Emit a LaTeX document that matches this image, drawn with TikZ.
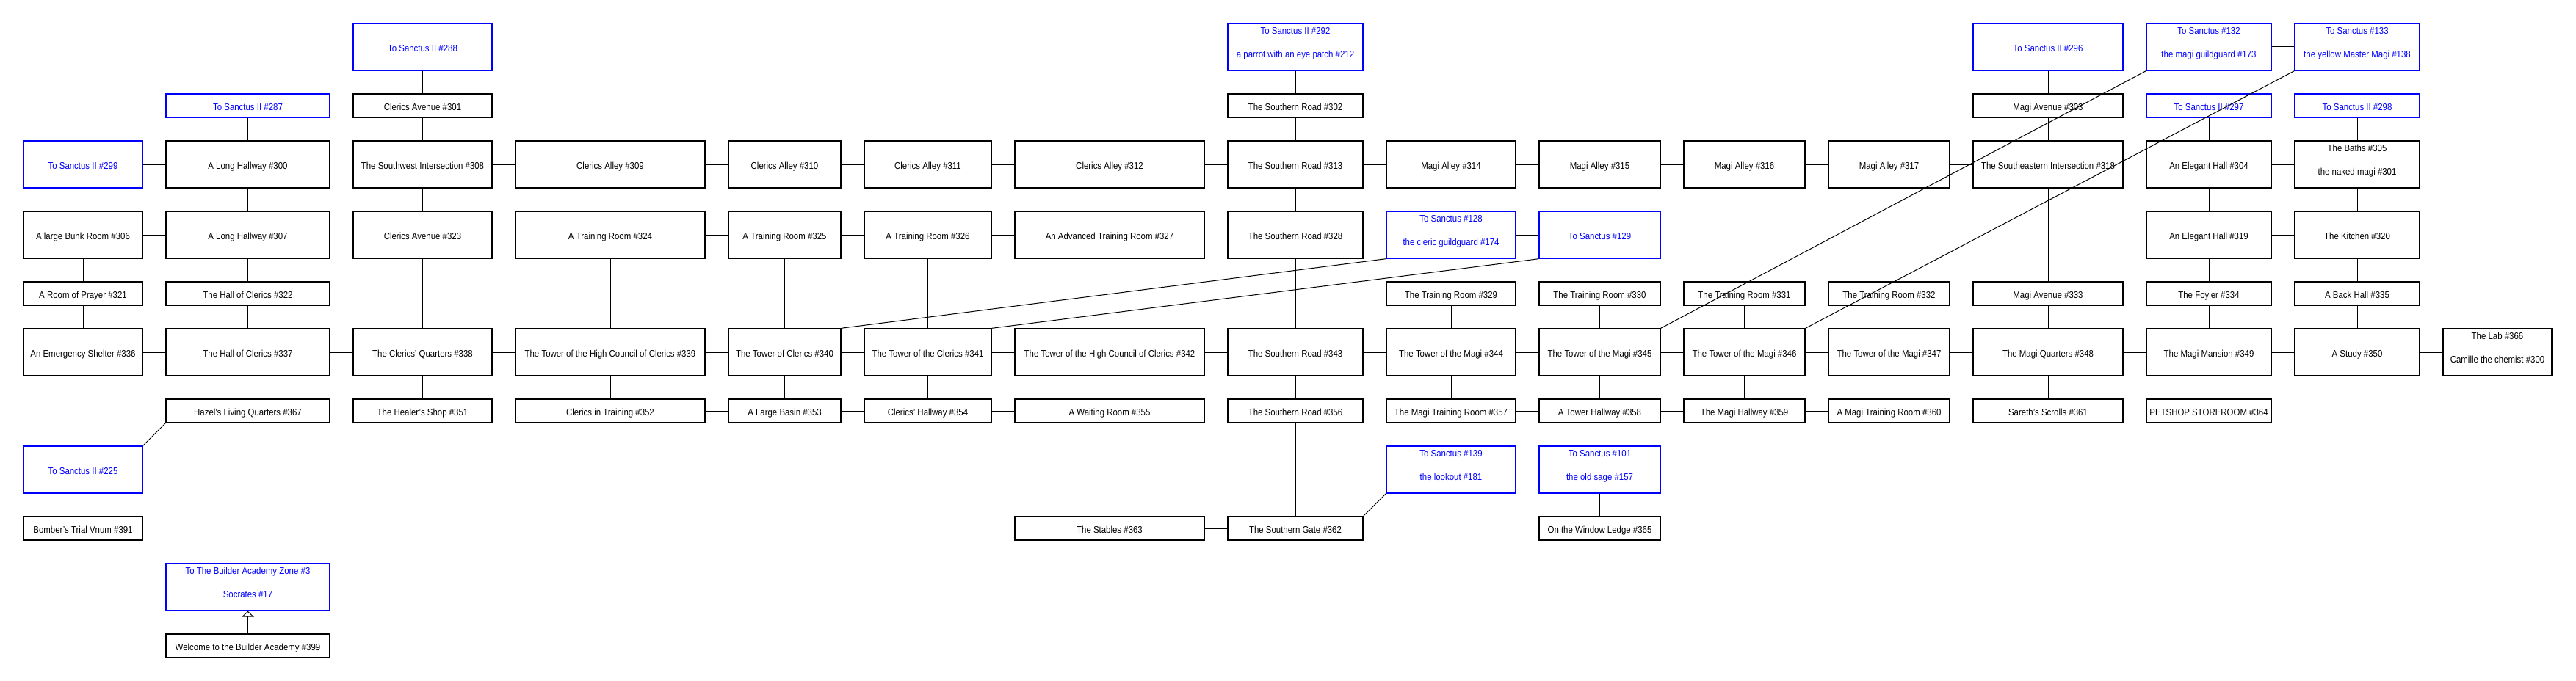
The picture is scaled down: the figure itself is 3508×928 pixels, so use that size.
\documentclass[tikz,border=0pt]{standalone}
\usepackage{fontspec}
\setmainfont{Liberation Sans}[FakeStretch=0.88]
\usetikzlibrary{arrows.meta}
\definecolor{exitblue}{RGB}{0,0,255}
\tikzset{
 room/.style={draw=black, line width=1.4pt, inner sep=0pt, text height=13pt, text depth=0pt, font=\fontsize{13pt}{15pt}\selectfont, text=black},
 exitroom/.style={room, draw=exitblue, text=exitblue},
 roomtxt/.style={inner sep=0pt, anchor=base, font=\fontsize{13pt}{15pt}\selectfont, text=black},
 exitroomtxt/.style={roomtxt, text=exitblue},
 conn/.style={draw=black, line width=1pt},
}
\newcommand{\mkroom}[7][room]{\node[#1, minimum width={#4-#3}, minimum height={#6-#5}] (#2) at ({(#3+#4)/2},{(#5+#6)/2}) {#7};}
\newcommand{\mkroomii}[8][room]{\node[#1, minimum width={#4-#3}, minimum height={#6-#5}] (#2) at ({(#3+#4)/2},{(#5+#6)/2}) {};
 \node[#1txt] (#2a) at ({(#3+#4)/2},{#5+14.7}) {#7};
 \node[#1txt] (#2b) at ({(#3+#4)/2},{#5+46.7}) {#8};}
\begin{document}
\begin{tikzpicture}[x=1pt,y=-1pt]
\fill[white] (0,0) rectangle (3508,928);
\useasboundingbox (0,0) rectangle (3508,928);
% Row A
\mkroom[exitroom]{s288}{481}{670}{32}{96}{To Sanctus II \#288}
\mkroomii[exitroom]{s292}{1672}{1856}{32}{96}{To Sanctus II \#292}{a parrot with an eye patch \#212}
\mkroom[exitroom]{s296}{2687}{2891}{32}{96}{To Sanctus II \#296}
\mkroomii[exitroom]{s132}{2923}{3093}{32}{96}{To Sanctus \#132}{the magi guildguard \#173}
\mkroomii[exitroom]{s133}{3125}{3295}{32}{96}{To Sanctus \#133}{the yellow Master Magi \#138}
% Row B
\mkroom[exitroom]{s287}{226}{449}{128}{160}{To Sanctus II \#287}
\mkroom{r301}{481}{670}{128}{160}{Clerics Avenue \#301}
\mkroom{r302}{1672}{1856}{128}{160}{The Southern Road \#302}
\mkroom{r303}{2687}{2891}{128}{160}{Magi Avenue \#303}
\mkroom[exitroom]{s297}{2923}{3093}{128}{160}{To Sanctus II \#297}
\mkroom[exitroom]{s298}{3125}{3295}{128}{160}{To Sanctus II \#298}
% Row C
\mkroom[exitroom]{s299}{32}{194}{192}{256}{To Sanctus II \#299}
\mkroom{r300}{226}{449}{192}{256}{A Long Hallway \#300}
\mkroom{r308}{481}{670}{192}{256}{The Southwest Intersection \#308}
\mkroom{r309}{702}{960}{192}{256}{Clerics Alley \#309}
\mkroom{r310}{992}{1145}{192}{256}{Clerics Alley \#310}
\mkroom{r311}{1177}{1350}{192}{256}{Clerics Alley \#311}
\mkroom{r312}{1382}{1640}{192}{256}{Clerics Alley \#312}
\mkroom{r313}{1672}{1856}{192}{256}{The Southern Road \#313}
\mkroom{r314}{1888}{2064}{192}{256}{Magi Alley \#314}
\mkroom{r315}{2096}{2261}{192}{256}{Magi Alley \#315}
\mkroom{r316}{2293}{2458}{192}{256}{Magi Alley \#316}
\mkroom{r317}{2490}{2655}{192}{256}{Magi Alley \#317}
\mkroom{r318}{2687}{2891}{192}{256}{The Southeastern Intersection \#318}
\mkroom{r304}{2923}{3093}{192}{256}{An Elegant Hall \#304}
\mkroomii{r305}{3125}{3295}{192}{256}{The Baths \#305}{the naked magi \#301}
% Row D
\mkroom{r306}{32}{194}{288}{352}{A large Bunk Room \#306}
\mkroom{r307}{226}{449}{288}{352}{A Long Hallway \#307}
\mkroom{r323}{481}{670}{288}{352}{Clerics Avenue \#323}
\mkroom{r324}{702}{960}{288}{352}{A Training Room \#324}
\mkroom{r325}{992}{1145}{288}{352}{A Training Room \#325}
\mkroom{r326}{1177}{1350}{288}{352}{A Training Room \#326}
\mkroom{r327}{1382}{1640}{288}{352}{An Advanced Training Room \#327}
\mkroom{r328}{1672}{1856}{288}{352}{The Southern Road \#328}
\mkroomii[exitroom]{s128}{1888}{2064}{288}{352}{To Sanctus \#128}{the cleric guildguard \#174}
\mkroom[exitroom]{s129}{2096}{2261}{288}{352}{To Sanctus \#129}
\mkroom{r319}{2923}{3093}{288}{352}{An Elegant Hall \#319}
\mkroom{r320}{3125}{3295}{288}{352}{The Kitchen \#320}
% Row E
\mkroom{r321}{32}{194}{384}{416}{A Room of Prayer \#321}
\mkroom{r322}{226}{449}{384}{416}{The Hall of Clerics \#322}
\mkroom{r329}{1888}{2064}{384}{416}{The Training Room \#329}
\mkroom{r330}{2096}{2261}{384}{416}{The Training Room \#330}
\mkroom{r331}{2293}{2458}{384}{416}{The Training Room \#331}
\mkroom{r332}{2490}{2655}{384}{416}{The Training Room \#332}
\mkroom{r333}{2687}{2891}{384}{416}{Magi Avenue \#333}
\mkroom{r334}{2923}{3093}{384}{416}{The Foyier \#334}
\mkroom{r335}{3125}{3295}{384}{416}{A Back Hall \#335}
% Row F
\mkroom{r336}{32}{194}{448}{512}{An Emergency Shelter \#336}
\mkroom{r337}{226}{449}{448}{512}{The Hall of Clerics \#337}
\mkroom{r338}{481}{670}{448}{512}{The Clerics' Quarters \#338}
\mkroom{r339}{702}{960}{448}{512}{The Tower of the High Council of Clerics \#339}
\mkroom{r340}{992}{1145}{448}{512}{The Tower of Clerics \#340}
\mkroom{r341}{1177}{1350}{448}{512}{The Tower of the Clerics \#341}
\mkroom{r342}{1382}{1640}{448}{512}{The Tower of the High Council of Clerics \#342}
\mkroom{r343}{1672}{1856}{448}{512}{The Southern Road \#343}
\mkroom{r344}{1888}{2064}{448}{512}{The Tower of the Magi \#344}
\mkroom{r345}{2096}{2261}{448}{512}{The Tower of the Magi \#345}
\mkroom{r346}{2293}{2458}{448}{512}{The Tower of the Magi \#346}
\mkroom{r347}{2490}{2655}{448}{512}{The Tower of the Magi \#347}
\mkroom{r348}{2687}{2891}{448}{512}{The Magi Quarters \#348}
\mkroom{r349}{2923}{3093}{448}{512}{The Magi Mansion \#349}
\mkroom{r350}{3125}{3295}{448}{512}{A Study \#350}
\mkroomii{r366}{3327}{3475}{448}{512}{The Lab \#366}{Camille the chemist \#300}
% Row G
\mkroom{r367}{226}{449}{544}{576}{Hazel's Living Quarters \#367}
\mkroom{r351}{481}{670}{544}{576}{The Healer's Shop \#351}
\mkroom{r352}{702}{960}{544}{576}{Clerics in Training \#352}
\mkroom{r353}{992}{1145}{544}{576}{A Large Basin \#353}
\mkroom{r354}{1177}{1350}{544}{576}{Clerics' Hallway \#354}
\mkroom{r355}{1382}{1640}{544}{576}{A Waiting Room \#355}
\mkroom{r356}{1672}{1856}{544}{576}{The Southern Road \#356}
\mkroom{r357}{1888}{2064}{544}{576}{The Magi Training Room \#357}
\mkroom{r358}{2096}{2261}{544}{576}{A Tower Hallway \#358}
\mkroom{r359}{2293}{2458}{544}{576}{The Magi Hallway \#359}
\mkroom{r360}{2490}{2655}{544}{576}{A Magi Training Room \#360}
\mkroom{r361}{2687}{2891}{544}{576}{Sareth's Scrolls \#361}
\mkroom{r364}{2923}{3093}{544}{576}{PETSHOP STOREROOM \#364}
% Row H
\mkroom[exitroom]{s225}{32}{194}{608}{672}{To Sanctus II \#225}
\mkroomii[exitroom]{s139}{1888}{2064}{608}{672}{To Sanctus \#139}{the lookout \#181}
\mkroomii[exitroom]{s101}{2096}{2261}{608}{672}{To Sanctus \#101}{the old sage \#157}
% Row I
\mkroom{r391}{32}{194}{704}{736}{Bomber's Trial Vnum \#391}
\mkroom{r363}{1382}{1640}{704}{736}{The Stables \#363}
\mkroom{r362}{1672}{1856}{704}{736}{The Southern Gate \#362}
\mkroom{r365}{2096}{2261}{704}{736}{On the Window Ledge \#365}
% Rows J, K
\mkroomii[exitroom]{sbld}{226}{449}{768}{832}{To The Builder Academy Zone \#3}{Socrates \#17}
\mkroom{r399}{226}{449}{864}{896}{Welcome to the Builder Academy \#399}
% vertical connectors
\foreach \a/\b in {s288/r301, r301/r308, s287/r300, r300/r307, r308/r323, r306/r321, r307/r322, r321/r336, r322/r337, r323/r338, r324/r339, r325/r340, r326/r341, r327/r342, r338/r351, r339/r352, r340/r353, r341/r354, r342/r355, s292/r302, r302/r313, r313/r328, r328/r343, r343/r356, r356/r362, r329/r344, r330/r345, r331/r346, r332/r347, r344/r357, r345/r358, r346/r359, r347/r360, s296/r303, r303/r318, r318/r333, r333/r348, r348/r361, s297/r304, r304/r319, r319/r334, r334/r349, s298/r305, r305/r320, r320/r335, r335/r350, s101/r365}
  \draw[conn] (\a.south) -- (\b.north);
% horizontal connectors
\foreach \a/\b in {s132/s133, s299/r300, r308/r309, r309/r310, r310/r311, r311/r312, r312/r313, r313/r314, r314/r315, r315/r316, r316/r317, r317/r318, r304/r305, r306/r307, r324/r325, r325/r326, r326/r327, s128/s129, r319/r320, r321/r322, r329/r330, r330/r331, r331/r332, r336/r337, r337/r338, r338/r339, r339/r340, r340/r341, r341/r342, r342/r343, r343/r344, r344/r345, r345/r346, r346/r347, r347/r348, r348/r349, r349/r350, r350/r366, r352/r353, r353/r354, r354/r355, r357/r358, r358/r359, r359/r360, r363/r362}
  \draw[conn] (\a.east) -- (\b.west);
% diagonal connectors
\draw[conn] (r367.south west) -- (s225.north east);
\draw[conn] (r362.north east) -- (s139.south west);
\draw[conn] (r340.north east) -- (s128.south west);
\draw[conn] (r341.north east) -- (s129.south west);
\draw[conn] (r345.north east) -- (s132.south west);
\draw[conn] (r346.north east) -- (s133.south west);
% arrow
\draw[conn, -{Triangle[open, length=8pt, width=17pt, line width=1pt]}] (r399.north) -- (sbld.south);
\end{tikzpicture}
\end{document}
